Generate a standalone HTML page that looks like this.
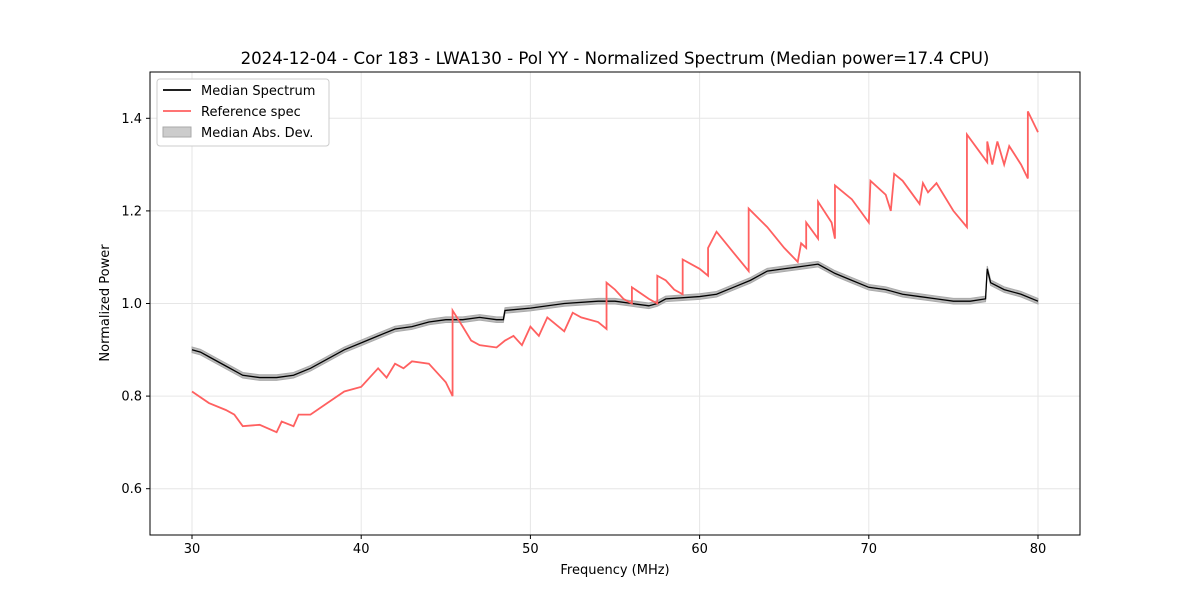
<!DOCTYPE html>
<html><head><meta charset="utf-8"><style>
body{margin:0;background:#fff;font-family:"Liberation Sans","DejaVu Sans",sans-serif}
svg text{font-family:"DejaVu Sans","Liberation Sans",sans-serif;fill:#000}
</style></head><body>
<svg id="c" width="1200" height="600" xmlns="http://www.w3.org/2000/svg"></svg>
<script>
const medFreq=[30,30.5,31,32,33,34,35,36,37,38,39,40,41,42,43,44,45,46,47,48,48.4,48.5,50,52,54,55,56,57,57.5,58,60,61,62,63,64,65,66,67,68,69,70,71,72,73,74,75,76,76.9,77,77.2,78,79,80];
const medVal=[0.90,0.895,0.885,0.865,0.845,0.84,0.84,0.845,0.86,0.88,0.90,0.915,0.93,0.945,0.95,0.96,0.965,0.965,0.97,0.965,0.965,0.985,0.99,1.0,1.005,1.005,1.0,0.995,1.0,1.01,1.015,1.02,1.035,1.05,1.07,1.075,1.08,1.085,1.065,1.05,1.035,1.03,1.02,1.015,1.01,1.005,1.005,1.01,1.075,1.045,1.03,1.02,1.005];
const madVal=medFreq.map(()=>0.006);
const refFreq=[30,31,32,32.5,33,34,35,35.3,36,36.3,37,38,39,40,40.5,41,41.5,42,42.5,43,44,45,45.4,45.4,46,46.5,47,48,48.5,49,49.5,50,50.5,51,52,52.5,53,54,54.5,54.5,55,55.5,56,56,57,57.5,57.5,58,58.5,59,59,60,60.5,60.5,61,62,62.9,62.9,64,65,65.8,66,66.3,66.3,67,67,67.8,68,68,69,69.5,70,70.1,71,71.3,71.5,72,73,73.2,73.5,74,75,75.8,75.8,76.5,77,77,77.3,77.6,78,78.3,79,79.4,79.4,80];
const refVal=[0.81,0.785,0.77,0.76,0.735,0.738,0.722,0.745,0.735,0.76,0.76,0.785,0.81,0.82,0.84,0.86,0.84,0.87,0.86,0.875,0.87,0.83,0.80,0.985,0.95,0.92,0.91,0.905,0.92,0.93,0.91,0.95,0.93,0.97,0.94,0.98,0.97,0.96,0.945,1.045,1.03,1.01,1.0,1.035,1.01,1.0,1.06,1.05,1.03,1.02,1.095,1.075,1.06,1.12,1.155,1.11,1.07,1.205,1.165,1.12,1.09,1.13,1.12,1.175,1.14,1.22,1.175,1.14,1.255,1.225,1.2,1.175,1.265,1.235,1.2,1.28,1.265,1.215,1.26,1.24,1.26,1.2,1.165,1.365,1.33,1.305,1.35,1.3,1.35,1.3,1.34,1.3,1.27,1.415,1.37];
const xTicks=[30,40,50,60,70,80];
const yTicks=[0.6,0.8,1.0,1.2,1.4];
const NS='http://www.w3.org/2000/svg',svg=document.getElementById('c');
const L=150,R=1080,T=72,B=535;
const sx=f=>192+(f-30)*(1038-192)/50;
const sy=v=>B-(v-0.5)*(B-T);
function mk(t,a,p){const e=document.createElementNS(NS,t);for(const k in a)e.setAttribute(k,a[k]);(p||svg).appendChild(e);return e;}
let g;
xTicks.forEach(t=>{g=mk('line',{x1:sx(t),x2:sx(t),y1:T,y2:B,stroke:'#e6e6e6'});


mk('line',{x1:sx(t),x2:sx(t),y1:B,y2:B+4,stroke:'#000'});
g=mk('text',{x:sx(t),y:B+18,'text-anchor':'middle','font-size':13});g.textContent=t;

});
yTicks.forEach(t=>{g=mk('line',{x1:L,x2:R,y1:sy(t),y2:sy(t),stroke:'#e6e6e6'});


mk('line',{x1:L-4,x2:L,y1:sy(t),y2:sy(t),stroke:'#000'});
g=mk('text',{x:L-8,y:sy(t)+4.5,'text-anchor':'end','font-size':13});g.textContent=t.toFixed(1);

});
let up=medFreq.map((f,i)=>sx(f)+','+sy(medVal[i]+madVal[i]));
let dn=medFreq.map((f,i)=>sx(f)+','+sy(medVal[i]-madVal[i])).reverse();
g=mk('polygon',{points:up.concat(dn).join(' '),fill:'#bbb',stroke:'#aaa','stroke-width':1});


g=mk('polyline',{points:medFreq.map((f,i)=>sx(f)+','+sy(medVal[i])).join(' '),fill:'none',stroke:'#000','stroke-width':1.3});


g=mk('polyline',{points:refFreq.map((f,i)=>sx(f)+','+sy(refVal[i])).join(' '),fill:'none',stroke:'#ff6060','stroke-width':1.8});


g=mk('rect',{x:L,y:T,width:R-L,height:B-T,fill:'none',stroke:'#000'});


g=mk('text',{x:615,y:64,'text-anchor':'middle','font-size':16.6});g.textContent='2024-12-04 - Cor 183 - LWA130 - Pol YY - Normalized Spectrum (Median power=17.4 CPU)';


g=mk('text',{x:615,y:574,'text-anchor':'middle','font-size':13});g.textContent='Frequency (MHz)';


g=mk('text',{x:0,y:0,'text-anchor':'middle','font-size':13,transform:'translate(109,303) rotate(-90)'});g.textContent='Normalized Power';


const lg=mk('g',{});


mk('rect',{x:157,y:79,width:172,height:67,rx:3,fill:'#fff',stroke:'#ccc'},lg);
mk('line',{x1:163,x2:191,y1:90,y2:90,stroke:'#000','stroke-width':1.8},lg);
mk('line',{x1:163,x2:191,y1:111,y2:111,stroke:'#ff6060','stroke-width':1.8},lg);
mk('rect',{x:163,y:127,width:28,height:10,fill:'#ccc',stroke:'#aaa'},lg);
[['Median Spectrum',95],['Reference spec',116],['Median Abs. Dev.',137]].forEach(a=>{g=mk('text',{x:201,y:a[1],'font-size':13},lg);g.textContent=a[0];

});
</script>
</body></html>
